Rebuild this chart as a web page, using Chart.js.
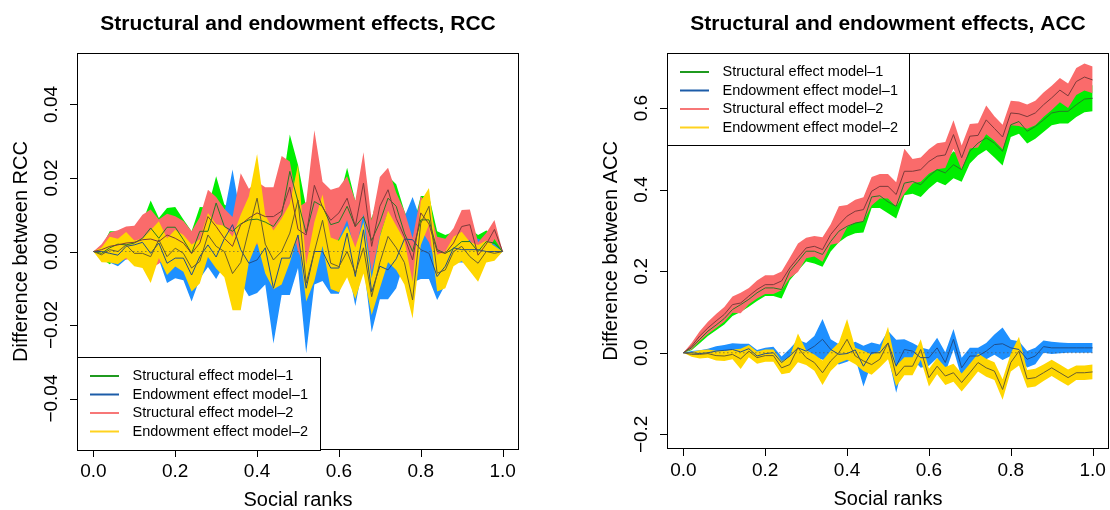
<!DOCTYPE html>
<html>
<head>
<meta charset="utf-8">
<script src="https://cdn.jsdelivr.net/npm/chart.js@4.4.0/dist/chart.umd.min.js"></script>
<style>
  body { margin: 0; background: #fff; }
  #wrap { position: relative; width: 1110px; height: 510px; }
  canvas { position: absolute; top: 0; }
</style>
</head>
<body>
<div id="wrap">
  <canvas id="rccChart" width="555" height="510" style="left:0"></canvas>
  <canvas id="accChart" width="555" height="510" style="left:555px"></canvas>
</div>
<script>
// social ranks (x)
var ranks = [0, 0.02, 0.04, 0.06, 0.08, 0.1, 0.12, 0.14, 0.16, 0.18, 0.2, 0.22, 0.24, 0.26, 0.28, 0.3, 0.32, 0.34, 0.36, 0.38, 0.4,
  0.42, 0.44, 0.46, 0.48, 0.5, 0.52, 0.54, 0.56, 0.58, 0.6, 0.62, 0.64, 0.66, 0.68, 0.7, 0.72, 0.74, 0.76, 0.78, 0.8,
  0.82, 0.84, 0.86, 0.88, 0.9, 0.92, 0.94, 0.96, 0.98, 1];

var seriesNames = ["Structural effect model\u20131", "Endowment effect model\u20131", "Structural effect model\u20132", "Endowment effect model\u20132"];

/* RCC panel : estimate + half width of the band */
var rccStruct1 = [0, -0.0005, 0.001, 0.002, 0.0018, 0.0023, 0.0036, 0.0064, 0.0036, 0.0066, 0.0066, 0.0032, -0.0005, 0.0055, 0.0055, 0.0132, 0.0068,
  0.0055, 0.0075, 0.0086, 0.0088, 0.008, 0.0068, 0.01, 0.0218, 0.0136, 0.005, 0.0136, 0.0123, 0.0073, 0.008, 0.0123, 0.0068, 0.0095, 0.003,
  0.008, 0.0145, 0.0123, 0.005, 0, 0.0086, 0.0086, 0.0005, -0.0005, 0.0008, 0.0027, 0.0027, 0, 0.0027, 0.0023, 0];
var rccStruct1Ci = [0, 0.0015, 0.0045, 0.0035, 0.0035, 0.0035, 0.0045, 0.0075, 0.0055, 0.0052, 0.0055, 0.0055, 0.006, 0.0066, 0.0065, 0.0073, 0.006,
  0.006, 0.006, 0.006, 0.006, 0.006, 0.006, 0.007, 0.01, 0.01, 0.007, 0.006, 0.006, 0.006, 0.006, 0.0105, 0.007, 0.006, 0.006,
  0.009, 0.006, 0.006, 0.006, 0.006, 0.0065, 0.0065, 0.005, 0.005, 0.0045, 0.0035, 0.0035, 0.0045, 0.003, 0.0025, 0];

var rccEndow1 = [0, 0, -0.0005, -0.001, 0.0014, 0.0018, 0.0025, -0.0005, 0.0023, -0.0032, -0.0018, -0.0018, -0.0064, -0.0014, 0.0018, -0.0015, 0.0035,
  0.0073, 0.0005, -0.0032, -0.0023, 0.001, -0.01, -0.0018, -0.0018, 0.0045, -0.01, 0, 0, -0.0045, -0.0045, 0.005, -0.0068, 0.0059, -0.011,
  -0.004, -0.005, -0.002, 0.0034, 0.0032, 0.0005, -0.0005, -0.0068, -0.004, 0.001, 0.0005, 0.0005, 0.0005, 0, 0, 0];
var rccEndow1Ci = [0, 0.0015, 0.0025, 0.003, 0.0035, 0.0035, 0.004, 0.0045, 0.0045, 0.0054, 0.0055, 0.006, 0.0072, 0.006, 0.006, 0.006, 0.007,
  0.015, 0.009, 0.009, 0.009, 0.01, 0.015, 0.01, 0.01, 0.009, 0.0177, 0.009, 0.008, 0.007, 0.007, 0.008, 0.008, 0.009, 0.011,
  0.009, 0.008, 0.008, 0.006, 0.0116, 0.008, 0.007, 0.0064, 0.005, 0.004, 0.0035, 0.0035, 0.003, 0.0025, 0.002, 0];

var rccStruct2 = [0, 0.0005, 0.0014, 0.0018, 0.0023, 0.0025, 0.0032, 0.0034, 0.0027, 0.0045, 0.0036, 0.0023, -0.0005, 0.0023, 0.0095, 0.0068, 0.0036,
  0.0014, 0.0073, 0.0091, 0.0105, 0.0095, 0.0095, 0.011, 0.0175, 0.006, 0.0045, 0.018, 0.012, 0.0085, 0.0105, 0.0145, 0.0068, 0.0186, 0.0014,
  0.0123, 0.0168, 0.009, 0.004, -0.0023, 0.0105, 0.0075, 0, -0.0005, 0.0023, 0.0068, 0.0073, -0.001, 0.002, 0.006, 0];
var rccStruct2Ci = [0, 0.0015, 0.0038, 0.004, 0.0045, 0.0045, 0.0068, 0.008, 0.006, 0.0058, 0.006, 0.006, 0.006, 0.007, 0.0073, 0.008, 0.008,
  0.008, 0.014, 0.008, 0.0085, 0.008, 0.008, 0.015, 0.007, 0.006, 0.009, 0.015, 0.007, 0.0083, 0.007, 0.006, 0.007, 0.0084, 0.007,
  0.008, 0.006, 0.007, 0.007, 0.006, 0.0045, 0.005, 0.004, 0.004, 0.004, 0.0045, 0.0041, 0.0035, 0.003, 0.0026, 0];

var rccEndow2 = [0, -0.0009, 0.0005, 0, 0.0018, -0.0005, -0.0005, -0.0014, 0.0032, -0.0014, 0.0009, -0.0005, -0.0045, -0.0027, 0.0045, 0.0014, 0,
  -0.006, -0.003, 0.006, 0.0145, 0.002, -0.0023, 0, 0.005, 0.014, -0.0086, 0, 0.0085, -0.0032, -0.0041, 0, -0.0059, 0.001, -0.0123,
  -0.003, 0.0041, 0.001, -0.003, -0.0132, 0.0077, 0.0123, -0.0059, -0.005, 0, 0.0014, -0.0014, -0.0032, 0, -0.0005, 0];
var rccEndow2Ci = [0, 0.002, 0.0035, 0.0035, 0.0035, 0.0035, 0.004, 0.0072, 0.005, 0.005, 0.005, 0.005, 0.0064, 0.006, 0.006, 0.006, 0.007,
  0.01, 0.013, 0.009, 0.012, 0.008, 0.008, 0.009, 0.008, 0.0096, 0.005, 0.008, 0.007, 0.007, 0.007, 0.007, 0.007, 0.007, 0.005,
  0.007, 0.007, 0.006, 0.006, 0.005, 0.006, 0.005, 0.005, 0.005, 0.004, 0.004, 0.004, 0.005, 0.003, 0.002, 0];

/* ACC panel */
var accStruct1 = [0, 0.012, 0.033, 0.053, 0.068, 0.084, 0.106, 0.118, 0.131, 0.147, 0.159, 0.159, 0.155, 0.2, 0.224, 0.249, 0.249,
  0.241, 0.273, 0.298, 0.31, 0.318, 0.322, 0.382, 0.385, 0.37, 0.359, 0.416, 0.42, 0.412, 0.433, 0.449, 0.441, 0.461, 0.449,
  0.494, 0.514, 0.527, 0.514, 0.494, 0.559, 0.567, 0.543, 0.555, 0.571, 0.588, 0.592, 0.592, 0.608, 0.622, 0.624];
var accStruct1Ci = [0, 0.006, 0.01, 0.012, 0.013, 0.015, 0.016, 0.018, 0.018, 0.02, 0.02, 0.02, 0.022, 0.022, 0.023, 0.025, 0.03,
  0.03, 0.025, 0.027, 0.025, 0.025, 0.027, 0.027, 0.03, 0.028, 0.03, 0.03, 0.03, 0.03, 0.03, 0.03, 0.03, 0.033, 0.03,
  0.03, 0.03, 0.03, 0.035, 0.035, 0.03, 0.03, 0.03, 0.03, 0.03, 0.03, 0.03, 0.03, 0.03, 0.032, 0.032];

var accEndow1 = [0, 0, -0.002, 0, 0.004, 0.006, 0.008, 0.002, 0.01, -0.008, -0.002, 0, -0.024, -0.008, 0.012, 0.004, 0.016,
  0.033, 0.008, -0.004, -0.002, 0.007, -0.033, 0, 0, 0.024, -0.033, 0.008, 0.004, -0.012, -0.012, 0.012, -0.024, 0.033, -0.037,
  -0.008, -0.008, 0.004, 0.02, 0.022, 0.012, 0.008, -0.016, -0.008, 0.015, 0.012, 0.012, 0.012, 0.012, 0.012, 0.012];
var accEndow1Ci = [0, 0.004, 0.008, 0.01, 0.012, 0.013, 0.015, 0.02, 0.012, 0.015, 0.014, 0.015, 0.015, 0.018, 0.02, 0.02, 0.025,
  0.05, 0.025, 0.025, 0.02, 0.02, 0.05, 0.025, 0.02, 0.03, 0.065, 0.025, 0.02, 0.025, 0.02, 0.025, 0.025, 0.025, 0.025,
  0.02, 0.02, 0.02, 0.025, 0.04, 0.02, 0.02, 0.02, 0.02, 0.015, 0.015, 0.013, 0.012, 0.012, 0.012, 0.012];

var accStruct2 = [0, 0.016, 0.041, 0.061, 0.078, 0.094, 0.118, 0.122, 0.139, 0.155, 0.167, 0.167, 0.176, 0.208, 0.233, 0.257, 0.261,
  0.253, 0.29, 0.314, 0.335, 0.347, 0.351, 0.396, 0.408, 0.408, 0.388, 0.445, 0.445, 0.449, 0.469, 0.482, 0.485, 0.535, 0.478,
  0.531, 0.533, 0.571, 0.55, 0.529, 0.588, 0.586, 0.579, 0.588, 0.608, 0.625, 0.644, 0.63, 0.665, 0.676, 0.669];
var accStruct2Ci = [0, 0.008, 0.012, 0.015, 0.017, 0.018, 0.02, 0.025, 0.02, 0.022, 0.023, 0.023, 0.023, 0.025, 0.035, 0.025, 0.025,
  0.03, 0.025, 0.045, 0.027, 0.028, 0.03, 0.035, 0.03, 0.03, 0.03, 0.055, 0.03, 0.03, 0.03, 0.032, 0.032, 0.035, 0.03,
  0.03, 0.03, 0.035, 0.03, 0.03, 0.03, 0.03, 0.03, 0.03, 0.03, 0.03, 0.03, 0.03, 0.033, 0.033, 0.033];

var accEndow2 = [0, -0.004, -0.004, -0.002, -0.007, -0.008, -0.004, -0.015, 0.004, -0.012, -0.007, -0.007, -0.037, -0.029, 0.012, -0.012, -0.024,
  -0.049, -0.02, 0, 0.033, -0.008, -0.02, -0.029, -0.016, 0.024, -0.057, -0.033, -0.033, 0.008, -0.061, -0.033, -0.057, -0.049, -0.073,
  -0.049, -0.024, -0.037, -0.045, -0.09, -0.024, 0.004, -0.064, -0.061, -0.049, -0.037, -0.049, -0.061, -0.049, -0.049, -0.047];
var accEndow2Ci = [0, 0.006, 0.01, 0.01, 0.012, 0.012, 0.012, 0.025, 0.015, 0.015, 0.015, 0.015, 0.016, 0.02, 0.035, 0.018, 0.02,
  0.03, 0.025, 0.025, 0.05, 0.02, 0.025, 0.025, 0.02, 0.04, 0.025, 0.022, 0.022, 0.025, 0.022, 0.02, 0.022, 0.022, 0.022,
  0.022, 0.022, 0.022, 0.022, 0.025, 0.022, 0.035, 0.022, 0.022, 0.02, 0.02, 0.02, 0.02, 0.018, 0.018, 0.018];

// axis ticks
var xTicks = [0, 0.2, 0.4, 0.6, 0.8, 1];
var xTickLabels = ["0.0", "0.2", "0.4", "0.6", "0.8", "1.0"];
var rccTicks = [-0.04, -0.02, 0, 0.02, 0.04];
var rccTickLabels = ["\u22120.04", "\u22120.02", "0.00", "0.02", "0.04"];
var accTicks = [-0.2, 0, 0.2, 0.4, 0.6];
var accTickLabels = ["\u22120.2", "0.0", "0.2", "0.4", "0.6"];

// colours: band fill / line inside plot / legend key
var bandColors = ["#00ee00", "#1e90ff", "#fa6b6b", "#ffd700"];
var lineColors = ["#267a26", "#1f4e8c", "#7d3a3a", "#6a5e2e"];
var keyColors = ["#1f9a1f", "#1c5ca8", "#f77777", "#ffd21f"];

var FONT = '"Liberation Sans", Arial, Helvetica, sans-serif';

function toPoints(vals) {
  return ranks.map(function (x, i) { return { x: x, y: vals[i] }; });
}

// band = polygon between est-ci and est+ci, then the estimate line on top
function buildDatasets(est, ci) {
  var ds = [];
  var lines = [];
  for (var k = 0; k < est.length; k++) {
    var hi = est[k].map(function (v, i) { return v + ci[k][i]; });
    var lo = est[k].map(function (v, i) { return v - ci[k][i]; });
    ds.push({
      data: toPoints(hi), fill: ds.length + 1, backgroundColor: bandColors[k],
      borderColor: "rgba(0,0,0,0)", borderWidth: 0, pointRadius: 0, order: 100 - k * 2
    });
    ds.push({
      data: toPoints(lo), fill: false, borderColor: "rgba(0,0,0,0)", borderWidth: 0,
      pointRadius: 0, order: 99 - k * 2
    });
    lines.push({
      data: toPoints(est[k]), fill: false, borderColor: lineColors[k], borderWidth: 1,
      pointRadius: 0, order: 10 - k
    });
  }
  // dotted zero reference
  lines.push({
    data: ranks.map(function (x) { return { x: x, y: 0 }; }), fill: false, borderColor: "#555",
    borderWidth: 1, borderDash: [1, 3], pointRadius: 0, order: 1
  });
  return ds.concat(lines);
}

// R style frame, axes, title and legend
function rFrame(cfg) {
  return {
    id: "rFrame",
    afterDraw: function (chart) {
      var ctx = chart.ctx, a = chart.chartArea;
      var xs = chart.scales.x, ys = chart.scales.y;
      ctx.save();
      ctx.fillStyle = "#000";
      ctx.strokeStyle = "#000";
      ctx.lineWidth = 1;

      ctx.font = "bold 21px " + FONT;
      ctx.textAlign = "center";
      ctx.textBaseline = "middle";
      ctx.fillText(cfg.title, (a.left + a.right) / 2, 24);

      ctx.strokeRect(Math.round(a.left) + 0.5, Math.round(a.top) + 0.5, Math.round(a.right - a.left) - 1, Math.round(a.bottom - a.top) - 1);

      ctx.font = "19px " + FONT;
      ctx.beginPath();
      xTicks.forEach(function (v) {
        var px = Math.round(xs.getPixelForValue(v)) + 0.5;
        ctx.moveTo(px, a.bottom);
        ctx.lineTo(px, a.bottom + 7);
      });
      cfg.yTicks.forEach(function (v) {
        var py = Math.round(ys.getPixelForValue(v)) + 0.5;
        ctx.moveTo(a.left, py);
        ctx.lineTo(a.left - 7, py);
      });
      ctx.stroke();

      xTicks.forEach(function (v, i) {
        ctx.fillText(xTickLabels[i], xs.getPixelForValue(v), a.bottom + 22);
      });
      cfg.yTicks.forEach(function (v, i) {
        ctx.save();
        ctx.translate(a.left - 25.5, ys.getPixelForValue(v));
        ctx.rotate(-Math.PI / 2);
        ctx.fillText(cfg.yLabels[i], 0, 0);
        ctx.restore();
      });

      ctx.font = "20px " + FONT;
      ctx.fillText("Social ranks", (a.left + a.right) / 2, a.bottom + 50);
      ctx.save();
      ctx.translate(a.left - 55.5, (a.top + a.bottom) / 2);
      ctx.rotate(-Math.PI / 2);
      ctx.fillText(cfg.yTitle, 0, 0);
      ctx.restore();

      // legend
      var L = cfg.legend;
      ctx.fillStyle = "#fff";
      ctx.fillRect(L.x, L.y, L.w, L.h);
      ctx.strokeStyle = "#000";
      ctx.strokeRect(L.x + 0.5, L.y + 0.5, L.w, L.h);
      ctx.font = "14.5px " + FONT;
      ctx.textAlign = "left";
      seriesNames.forEach(function (name, k) {
        var ry = L.y + 19 + k * 18.5;
        ctx.strokeStyle = keyColors[k];
        ctx.lineWidth = 2;
        ctx.beginPath();
        ctx.moveTo(L.x + 13, ry);
        ctx.lineTo(L.x + 42, ry);
        ctx.stroke();
        ctx.fillStyle = "#000";
        ctx.fillText(name, L.x + 55.5, ry);
      });
      ctx.restore();
    }
  };
}

function makeChart(id, est, ci, yMin, yMax, pad, cfg) {
  return new Chart(document.getElementById(id), {
    type: "line",
    data: { datasets: buildDatasets(est, ci) },
    options: {
      responsive: false,
      animation: false,
      devicePixelRatio: 1,
      layout: { padding: pad },
      elements: { line: { tension: 0 } },
      plugins: { legend: { display: false }, tooltip: { enabled: false }, filler: { propagate: false } },
      scales: {
        x: { type: "linear", min: -0.04, max: 1.04, display: false },
        y: { type: "linear", min: yMin, max: yMax, display: false }
      }
    },
    plugins: [rFrame(cfg)]
  });
}

makeChart("rccChart",
  [rccStruct1, rccEndow1, rccStruct2, rccEndow2],
  [rccStruct1Ci, rccEndow1Ci, rccStruct2Ci, rccEndow2Ci],
  -0.054, 0.054,
  { left: 77, right: 36, top: 53, bottom: 60 },
  {
    title: "Structural and endowment effects, RCC", yTitle: "Difference between RCC",
    yTicks: rccTicks, yLabels: rccTickLabels,
    legend: { x: 77, y: 357, w: 243, h: 93 }
  });

makeChart("accChart",
  [accStruct1, accEndow1, accStruct2, accEndow2],
  [accStruct1Ci, accEndow1Ci, accStruct2Ci, accEndow2Ci],
  -0.236, 0.735,
  { left: 112, right: 1, top: 53, bottom: 61 },
  {
    title: "Structural and endowment effects, ACC", yTitle: "Difference between ACC",
    yTicks: accTicks, yLabels: accTickLabels,
    legend: { x: 112, y: 53, w: 242, h: 92 }
  });
</script>
</body>
</html>
